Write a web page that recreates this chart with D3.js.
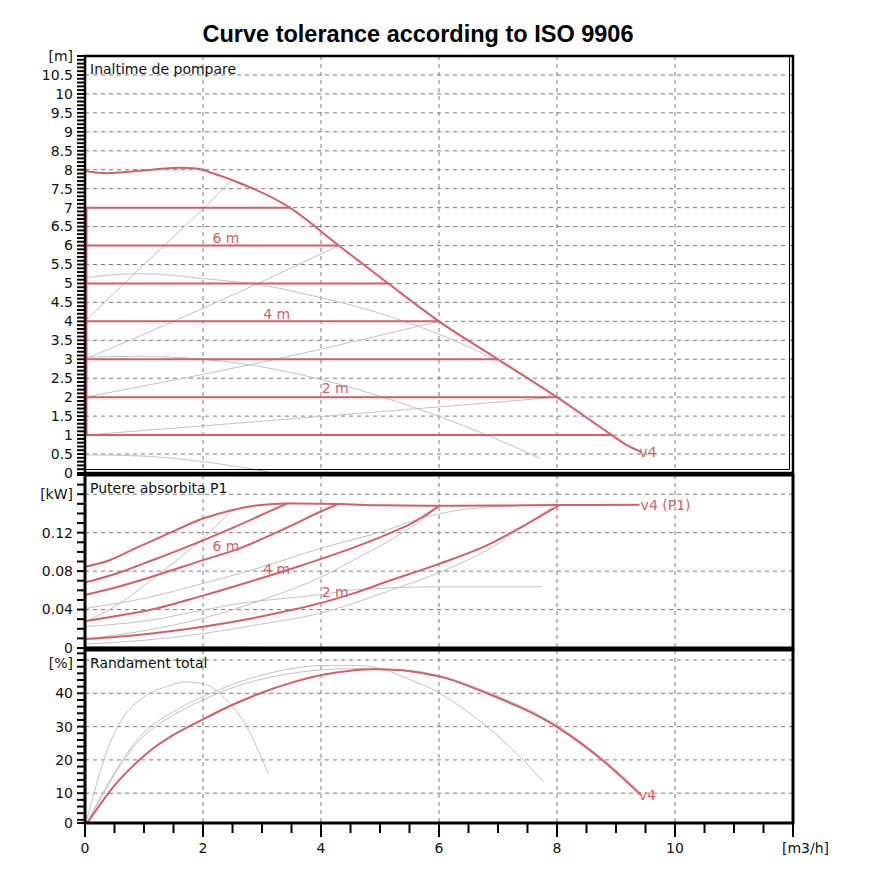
<!DOCTYPE html>
<html>
<head>
<meta charset="utf-8">
<script src="https://cdn.jsdelivr.net/npm/d3@7"></script>
<style>
  body { margin: 0; background: #fff; }
  text { font-family: "DejaVu Sans", sans-serif; }
</style>
</head>
<body>
<svg id="chart" width="880" height="880"></svg>
<script>
// ---- axis ticks ----
const flowTicks = [0, 2, 4, 6, 8, 10];
const headTicks = [0, 0.5, 1, 1.5, 2, 2.5, 3, 3.5, 4, 4.5, 5, 5.5, 6, 6.5, 7, 7.5, 8, 8.5, 9, 9.5, 10, 10.5];
const powerTicks = [0, 0.04, 0.08, 0.12];
const effTicks = [0, 10, 20, 30, 40];

// ---- head panel (m) ----
const maxHeadQ = [0, 0.37, 0.93, 1.6, 1.88, 2.18, 2.49, 3.47, 4.3, 5.14, 6.0, 7.0, 8.0, 8.93, 9.2, 9.43];
const maxHeadH = [7.97, 7.91, 7.97, 8.05, 8.03, 7.9, 7.73, 7.0, 6.0, 5.0, 4.0, 3.0, 2.0, 1.0, 0.72, 0.55];
const dutyHeads = [1, 2, 3, 4, 5, 6, 7];
const dutyEndQ = [8.93, 8.0, 7.0, 6.0, 5.14, 4.3, 3.47];
const greyHeadQ = [
  [0, 1.0, 2.0, 2.49],
  [0, 1.44, 2.68, 4.3],
  [0, 3.14, 6.0],
  [0, 4.32, 8.0],
  [0, 0.93, 2.0, 3.3, 3.64, 4.32, 5.45, 7.03, 7.37],
  [0, 0.93, 2.0, 3.14, 3.64, 4.04, 5.11, 6.86, 7.71],
  [0, 0.93, 2.0, 3.1]
];
const greyHeadH = [
  [4.0, 5.5, 6.97, 7.73],
  [3.0, 3.96, 4.82, 6.0],
  [2.0, 2.97, 4.0],
  [1.0, 1.53, 2.0],
  [5.15, 5.26, 5.13, 4.87, 4.75, 4.51, 3.98, 2.92, 2.62],
  [3.05, 3.08, 3.0, 2.76, 2.6, 2.45, 1.97, 0.97, 0.39],
  [0.48, 0.45, 0.3, 0.03]
];
const dutyLabels = ["6 m", "4 m", "2 m"];
const headLabelQ = [2.39, 3.25, 4.24];
const headLabelH = [6.2, 4.2, 2.24];

// ---- power panel (kW) ----
const redPowerQ = [
  [0, 0.34, 0.85, 1.41, 2.0, 2.49, 2.94, 3.42, 4.3, 5.0, 6.0, 7.0, 8.0, 9.4],
  [0, 0.56, 1.13, 2.0, 2.54, 3.05, 3.42],
  [0, 0.56, 1.13, 2.0, 2.54, 3.39, 3.98, 4.3],
  [0, 0.56, 1.13, 2.0, 2.82, 3.5, 4.04, 4.55, 5.11, 5.56, 6.02],
  [0, 0.56, 1.13, 2.0, 2.82, 3.5, 4.04, 4.55, 5.11, 6.0, 6.82, 7.5, 8.04]
];
const redPowerP = [
  [0.0845, 0.0897, 0.1036, 0.119, 0.1347, 0.1434, 0.1486, 0.1503, 0.1498, 0.1485, 0.148, 0.1483, 0.1487, 0.149],
  [0.068, 0.078, 0.091, 0.112, 0.126, 0.14, 0.1503],
  [0.0551, 0.0637, 0.0741, 0.0914, 0.1018, 0.1243, 0.1415, 0.15],
  [0.028, 0.0335, 0.04, 0.0545, 0.0695, 0.0825, 0.0935, 0.1045, 0.118, 0.1305, 0.1486],
  [0.0093, 0.0118, 0.0152, 0.0222, 0.0308, 0.0395, 0.0475, 0.0568, 0.0689, 0.0875, 0.107, 0.1295, 0.1486]
];
const greyPowerQ = [
  [0, 0.56, 1.3, 2.0, 2.49],
  [0, 1.13, 2.0, 2.82, 4.04, 5.11, 5.68, 6.53, 7.37],
  [0, 1.13, 2.0, 2.82, 3.39, 4.04, 4.55, 6.0, 7.74],
  [0, 1.0, 2.0, 3.0, 4.07, 4.55, 5.11, 5.68, 6.02],
  [0, 1.0, 2.0, 3.0, 3.98, 5.11, 6.0, 6.82, 7.37, 7.93],
  [0, 1.5, 3.1]
];
const greyPowerP = [
  [0.027, 0.0453, 0.0793, 0.114, 0.1434],
  [0.0412, 0.0533, 0.0672, 0.081, 0.1045, 0.1226, 0.1347, 0.145, 0.148],
  [0.0222, 0.0291, 0.0395, 0.0481, 0.0516, 0.056, 0.0603, 0.0637, 0.0637],
  [0.0093, 0.018, 0.031, 0.05, 0.0758, 0.0914, 0.11, 0.132, 0.1486],
  [0.004, 0.008, 0.015, 0.025, 0.036, 0.0585, 0.0786, 0.102, 0.124, 0.147],
  [0.0012, 0.0012, 0.0008]
];
const powerLabelQ = [2.39, 3.25, 4.24];
const powerLabelP = [0.106, 0.082, 0.058];

// ---- efficiency panel (%) ----
const effRedQ = [0, 0.48, 1.05, 2.0, 2.97, 3.5, 4.01, 4.5, 4.89, 5.3, 5.68, 6.02, 6.81, 7.99, 8.73, 9.42];
const effRedE = [0, 11.9, 22, 32.2, 40, 43.2, 45.5, 46.8, 47.2, 47.0, 46.2, 45, 40, 30, 20.5, 9.5];
const effGreyQ = [
  [0, 0.2, 0.4, 0.62, 0.93, 1.38, 1.72, 2.06, 2.4, 2.74, 3.1],
  [0, 0.3, 0.6, 0.93, 1.5, 2.0, 2.63, 3.19, 4.0, 4.6, 5.0, 5.45, 6.02, 6.24, 6.81, 7.37, 7.77],
  [0, 0.3, 0.6, 0.93, 1.5, 2.0, 2.63, 3.19, 4.0, 4.6, 5.0, 5.68, 6.02, 6.81, 7.99, 8.73, 9.4]
];
const effGreyE = [
  [0, 13, 24, 32, 38, 42, 43.4, 42.5, 38, 30, 16],
  [0, 10, 19, 27, 34.5, 39, 43.5, 46.3, 48.3, 48.3, 47.5, 44.5, 40, 37.5, 30, 21, 13.4],
  [0, 9.5, 18.5, 26, 33.5, 38, 42.5, 45, 47, 47.4, 47.3, 46.5, 45.3, 40.5, 30.5, 21, 10.5]
];

// ---- drawing ----
const RED = "#d25f69", GREY = "#c2c2c2";
const svg = d3.select("#chart");
const left = 85, right = 793;
const x = d3.scaleLinear().domain([0, 12]).range([left, right]);

const panels = [
  { name: "head", top: 56, bottom: 473, y: d3.scaleLinear().domain([0, 11]).range([473, 56]),
    grid: d3.range(0.5, 11, 0.5), minor: d3.range(0, 11.01, 0.1), labels: headTicks, fmt: d3.format("~g"),
    unit: "[m]", unitVal: 11, unitShift: 0, title: "Inaltime de pompare" },
  { name: "power", top: 475, bottom: 648, y: d3.scaleLinear().domain([0, 0.18]).range([648, 475]),
    grid: [0.04, 0.08, 0.12, 0.16], minor: d3.range(0, 0.1801, 0.01), labels: powerTicks, fmt: d3.format("~g"),
    unit: "[kW]", unitVal: 0.16, unitShift: 0, title: "Putere absorbita P1" },
  { name: "eff", top: 650, bottom: 823, y: d3.scaleLinear().domain([0, 50]).range([826.5, 660]),
    grid: [10, 20, 30, 40, 50], minor: d3.range(0, 53, 2), labels: effTicks, fmt: d3.format("d"),
    unit: "[%]", unitVal: 50, unitShift: 3, title: "Randament total" }
];

const defs = svg.append("defs");
panels.forEach(p => {
  defs.append("clipPath").attr("id", "clip-" + p.name)
    .append("rect").attr("x", left).attr("y", p.top).attr("width", right - left).attr("height", p.bottom - p.top);
});

function lineOf(yScale) {
  return d3.line().x(d => x(d[0])).y(d => yScale(d[1])).curve(d3.curveMonotoneX);
}
const zipPts = (qs, vs) => qs.map((q, i) => [q, vs[i]]);

panels.forEach(p => {
  const g = svg.append("g");
  const clamp = v => Math.min(p.y(v), p.bottom);

  // dashed grid
  g.selectAll(".hg").data(p.grid).join("line")
    .attr("x1", left).attr("x2", right)
    .attr("y1", d => p.y(d)).attr("y2", d => p.y(d))
    .attr("stroke", "#7a7a7a").attr("stroke-width", 1).attr("stroke-dasharray", "4,4");
  g.selectAll(".vg").data(flowTicks.slice(1)).join("line")
    .attr("x1", d => x(d)).attr("x2", d => x(d))
    .attr("y1", p.top).attr("y2", p.bottom)
    .attr("stroke", "#7a7a7a").attr("stroke-width", 1).attr("stroke-dasharray", "4,4");

  // left minor ticks
  g.selectAll(".mt").data(p.minor).join("line")
    .attr("x1", left - 8).attr("x2", left)
    .attr("y1", d => clamp(d)).attr("y2", d => clamp(d))
    .attr("stroke", "#000").attr("stroke-width", 2);

  // labels
  g.selectAll(".tl").data(p.labels).join("text")
    .attr("x", left - 12).attr("y", d => clamp(d)).attr("dy", "0.35em")
    .attr("text-anchor", "end").attr("font-size", 14).attr("fill", "#111")
    .text(d => p.fmt(d));
  g.append("text").attr("x", left - 12).attr("y", p.y(p.unitVal) + p.unitShift).attr("dy", "0.35em")
    .attr("text-anchor", "end").attr("font-size", 14).attr("fill", "#111").text(p.unit);

  g.append("text").attr("x", left + 5).attr("y", p.top + 18)
    .attr("font-size", 14).attr("fill", "#111").text(p.title);
});

// ---- head curves ----
const yH = panels[0].y, yP = panels[1].y, yE = panels[2].y;
const gH = svg.append("g").attr("clip-path", "url(#clip-head)");
greyHeadQ.forEach((qs, i) => {
  gH.append("path").attr("d", lineOf(yH)(zipPts(qs, greyHeadH[i])))
    .attr("fill", "none").attr("stroke", GREY).attr("stroke-width", 1);
});
gH.selectAll(".duty").data(dutyHeads).join("line")
  .attr("x1", x(0)).attr("x2", (d, i) => x(dutyEndQ[i]))
  .attr("y1", d => yH(d)).attr("y2", d => yH(d))
  .attr("stroke", RED).attr("stroke-width", 2);
gH.append("line").attr("x1", x(0) + 1.5).attr("x2", x(0) + 1.5)
  .attr("y1", yH(d3.min(dutyHeads))).attr("y2", yH(d3.max(dutyHeads)))
  .attr("stroke", RED).attr("stroke-width", 2);
gH.append("path").attr("d", lineOf(yH)(zipPts(maxHeadQ, maxHeadH)))
  .attr("fill", "none").attr("stroke", RED).attr("stroke-width", 2);
svg.selectAll(".hlab").data(dutyLabels).join("text")
  .attr("x", (d, i) => x(headLabelQ[i])).attr("y", (d, i) => yH(headLabelH[i])).attr("dy", "0.35em")
  .attr("text-anchor", "middle").attr("font-size", 14).attr("fill", RED).text(d => d);
svg.append("text").attr("x", x(maxHeadQ[maxHeadQ.length - 1]) - 2).attr("y", yH(maxHeadH[maxHeadH.length - 1]))
  .attr("dy", "0.35em").attr("font-size", 14).attr("fill", RED).text("v4");

// ---- power curves ----
const gP = svg.append("g").attr("clip-path", "url(#clip-power)");
greyPowerQ.forEach((qs, i) => {
  gP.append("path").attr("d", lineOf(yP)(zipPts(qs, greyPowerP[i])))
    .attr("fill", "none").attr("stroke", GREY).attr("stroke-width", 1);
});
redPowerQ.forEach((qs, i) => {
  gP.append("path").attr("d", lineOf(yP)(zipPts(qs, redPowerP[i])))
    .attr("fill", "none").attr("stroke", RED).attr("stroke-width", 2);
});
svg.selectAll(".plab").data(dutyLabels).join("text")
  .attr("x", (d, i) => x(powerLabelQ[i])).attr("y", (d, i) => yP(powerLabelP[i])).attr("dy", "0.35em")
  .attr("text-anchor", "middle").attr("font-size", 14).attr("fill", RED).text(d => d);
const pm = redPowerQ[0].length - 1;
svg.append("text").attr("x", x(redPowerQ[0][pm]) + 1).attr("y", yP(redPowerP[0][pm]))
  .attr("dy", "0.35em").attr("font-size", 14).attr("fill", RED).text("v4 (P1)");

// ---- efficiency curves ----
const gE = svg.append("g").attr("clip-path", "url(#clip-eff)");
effGreyQ.forEach((qs, i) => {
  gE.append("path").attr("d", lineOf(yE)(zipPts(qs, effGreyE[i])))
    .attr("fill", "none").attr("stroke", GREY).attr("stroke-width", 1);
});
gE.append("path").attr("d", lineOf(yE)(zipPts(effRedQ, effRedE)))
  .attr("fill", "none").attr("stroke", RED).attr("stroke-width", 2);
svg.append("text").attr("x", x(effRedQ[effRedQ.length - 1]) - 2).attr("y", yE(effRedE[effRedE.length - 1]))
  .attr("dy", "0.35em").attr("font-size", 14).attr("fill", RED).text("v4");

// ---- frames ----
panels.forEach((p, i) => {
  svg.append("rect").attr("x", left).attr("y", p.top)
    .attr("width", right - left).attr("height", p.bottom - p.top)
    .attr("fill", "none").attr("stroke", "#000").attr("stroke-width", i === 0 ? 2.5 : 3);
});
svg.append("path")
  .attr("d", `M${right - 3.5},${panels[0].top + 1}V${panels[0].bottom - 3.5}H${left + 1}`)
  .attr("fill", "none").attr("stroke", "#000").attr("stroke-width", 1);

// ---- flow axis ----
const ax = svg.append("g");
const bottomY = panels[2].bottom;
ax.selectAll(".xm").data(d3.range(0, 12.01, 0.5)).join("line")
  .attr("x1", d => x(d)).attr("x2", d => x(d))
  .attr("y1", bottomY).attr("y2", d => bottomY + (d % 2 === 0 ? 14 : 10))
  .attr("stroke", "#000").attr("stroke-width", 2);
ax.selectAll(".xl").data(flowTicks).join("text")
  .attr("x", d => x(d)).attr("y", bottomY + 30)
  .attr("text-anchor", "middle").attr("font-size", 14).attr("fill", "#111").text(d => d);
ax.append("text").attr("x", 829).attr("y", bottomY + 30)
  .attr("text-anchor", "end").attr("font-size", 14).attr("fill", "#111").text("[m3/h]");

// ---- title ----
svg.append("text").attr("x", 418).attr("y", 42).attr("text-anchor", "middle")
  .style("font-family", "'Liberation Sans', Arial, sans-serif")
  .attr("font-weight", "bold").attr("font-size", 23.5).attr("fill", "#000")
  .text("Curve tolerance according to ISO 9906");
</script>
</body>
</html>
